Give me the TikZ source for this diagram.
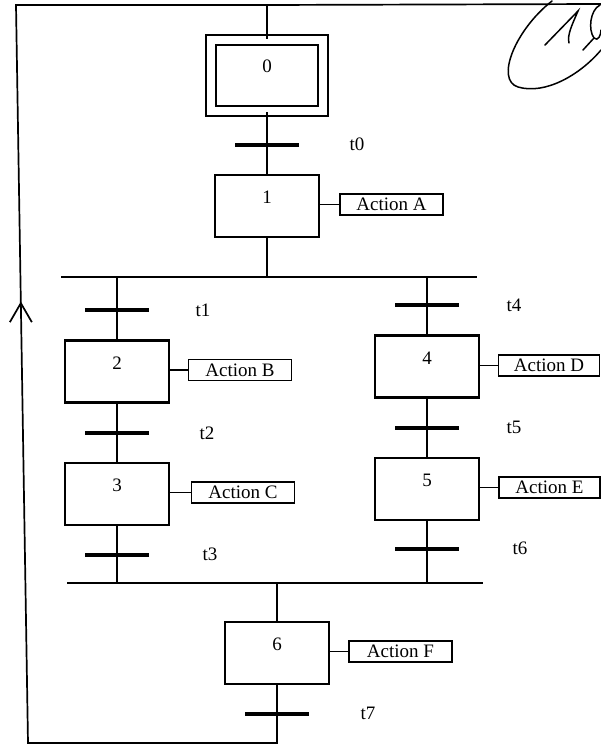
\documentclass[tikz,border=0pt]{standalone}
\usepackage{fontspec}
\setmainfont{Liberation Serif}
\usetikzlibrary{calc}
\begin{document}
\begin{tikzpicture}[x=1pt,y=-1pt,
  every node/.style={font=\fontsize{19}{22}\selectfont},
  stepbox/.style={draw, line width=2.1pt, minimum width=104pt, minimum height=62pt, inner sep=0pt, text height=13pt, text depth=18pt},
  initstep/.style={stepbox, double, double distance=7.5pt, minimum width=112pt, minimum height=71pt},
  actbox/.style={draw, line width=1.6pt, minimum width=103pt, minimum height=21pt, inner sep=0pt, text height=12pt, text depth=0pt},
  trans/.style={fill=black, minimum width=64pt, minimum height=3.6pt, inner sep=0pt, outer sep=0pt},
  tlabel/.style={inner sep=0pt, text height=12pt, text depth=0pt},
  link/.style={line width=1.7pt},
  bus/.style={line width=1.9pt},
  sig/.style={line width=1.5pt, line cap=round}]
\useasboundingbox (0,0) rectangle (601,746);

% steps
\node[initstep] (S0) at (267,75.5) {0};
\node[stepbox] (S1) at (267,206) {1};
\node[stepbox] (S2) at (117,371.5) {2};
\node[stepbox] (S3) at (117,494) {3};
\node[stepbox] (S4) at (427,366.5) {4};
\node[stepbox] (S5) at (427,489) {5};
\node[stepbox] (S6) at (277,653) {6};

% actions
\node[actbox] (AA) at (391.5,204.5) {Action A};
\node[actbox] (AB) at (240,370) {Action B};
\node[actbox] (AC) at (243,492.5) {Action C};
\node[actbox, minimum width=101pt] (AD) at (549,365.5) {Action D};
\node[actbox, minimum width=101pt] (AE) at (549.5,487.5) {Action E};
\node[actbox] (AF) at (400.5,651.5) {Action F};

% transitions
\node[trans] (T0) at (267,145) {};
\node[trans] (T1) at (117,310) {};
\node[trans] (T2) at (117,433) {};
\node[trans] (T3) at (117,555) {};
\node[trans] (T4) at (427,305) {};
\node[trans] (T5) at (427,428) {};
\node[trans] (T6) at (427,549) {};
\node[trans] (T7) at (277,714) {};

% transition labels
\node[tlabel] (L0) at (357,145) {t0};
\node[tlabel] (L1) at (203,310) {t1};
\node[tlabel] (L2) at (207,433) {t2};
\node[tlabel] (L3) at (210,554) {t3};
\node[tlabel] (L4) at (514,305) {t4};
\node[tlabel] (L5) at (514,427) {t5};
\node[tlabel] (L6) at (520,548) {t6};
\node[tlabel] (L7) at (368,713) {t7};

% bus lines
\coordinate (DivL) at (61,277);
\coordinate (DivR) at (477,277);
\coordinate (CvL) at (67,583);
\coordinate (CvR) at (483,583);
\draw[bus] (DivL) -- (DivR);
\draw[bus] (CvL) -- (CvR);

% loop corners
\coordinate (TL) at (16,5);
\coordinate (TR) at (601,4);
\coordinate (BL) at (28,743);

% links
\draw[link] (S0.south) -- (T0) -- (S1.north);
\draw[link] (S1.south) -- (S1.south |- DivL);
\draw[link] (T1 |- DivL) -- (T1) -- (S2.north);
\draw[link] (S2.south) -- (T2) -- (S3.north);
\draw[link] (S3.south) -- (T3) -- (T3 |- CvL);
\draw[link] (T4 |- DivR) -- (T4) -- (S4.north);
\draw[link] (S4.south) -- (T5) -- (S5.north);
\draw[link] (S5.south) -- (T6) -- (T6 |- CvR);
\draw[link] (S6.north |- CvL) -- (S6.north);
\draw[link] (S6.south) -- (T7) -- (T7 |- BL) -- (BL) -- (TL) -- (TL -| S0.north) -- (S0.north);
\draw[link] (TL -| S0.north) -- (TR);

% action connectors
\draw[link] (AA.west) -- (AA.west -| S1.east);
\draw[link] (AB.west) -- (AB.west -| S2.east);
\draw[link] (AC.west) -- (AC.west -| S3.east);
\draw[link] (AD.west) -- (AD.west -| S4.east);
\draw[link] (AE.west) -- (AE.west -| S5.east);
\draw[link] (AF.west) -- (AF.west -| S6.east);

% upward arrow on return line
\coordinate (ARR) at ($(TL)!0.404!(BL)$);
\draw[link] ($(ARR)+(-11,19)$) -- (ARR) -- ($(ARR)+(11,19)$);

% handwritten mark
\draw[sig] (552,1) .. controls (515,30) and (495,80) .. (518,87) .. controls (545,95) and (580,75) .. (601,50);
\draw[sig] (545,45) -- (578,11) .. controls (572,25) and (567,35) .. (569,43);
\draw[sig] (600,5) .. controls (590,10) and (588,30) .. (594,38) .. controls (598,42) and (601,35) .. (601,30);
\draw[sig] (594,38) -- (583,50);
\end{tikzpicture}
\end{document}
